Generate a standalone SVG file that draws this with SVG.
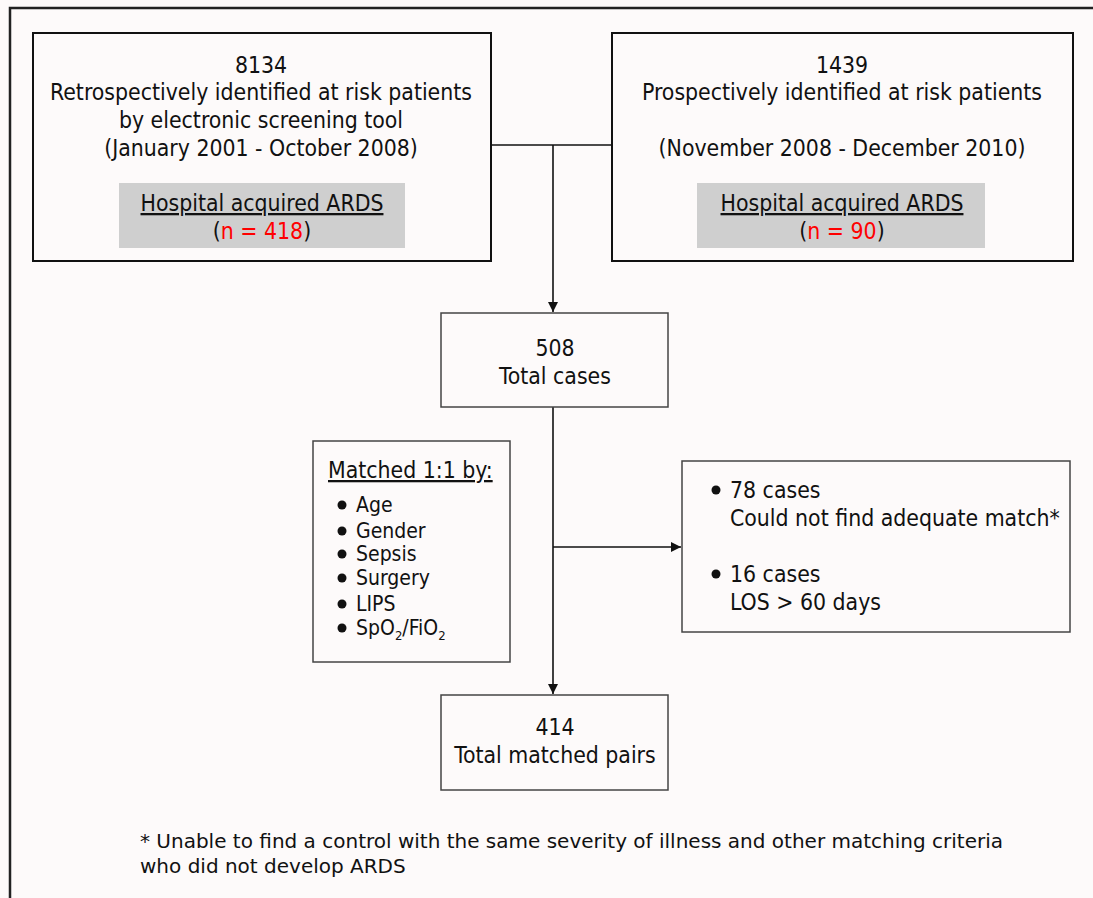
<svg xmlns="http://www.w3.org/2000/svg" width="1093" height="898" viewBox="0 0 1093 898">
<defs>
<marker id="arr" viewBox="0 0 10 10" refX="10" refY="5" markerWidth="10" markerHeight="11" markerUnits="userSpaceOnUse" orient="auto">
<path d="M0,0 L10,5 L0,10 z" fill="#111"/>
</marker>
<style>
text{font-family:"DejaVu Sans Condensed","DejaVu Sans",sans-serif;font-size:22.8px;fill:#111}
.c{text-anchor:middle}
.u{text-decoration:underline}
.red{fill:#ff0000}
.li{font-size:21px}
.fn{font-family:"DejaVu Sans",sans-serif;font-size:20px}
.top{fill:#fdfafa;stroke:#111;stroke-width:2}
.box{fill:#fdfafa;stroke:#444;stroke-width:1.5}
.gray{fill:#cfcfcf;stroke:none}
.ln{fill:none;stroke:#111;stroke-width:1.6}
</style>
</defs>
<rect x="0" y="0" width="1093" height="898" fill="#fdfafa"/>
<rect x="10" y="8" width="1100" height="900" fill="none" stroke="#222" stroke-width="2.5"/>

<g id="connectors">
<path class="ln" d="M491,145 H612"/>
<path class="ln" d="M553,145 V312" marker-end="url(#arr)"/>
<path class="ln" d="M553,407 V694" marker-end="url(#arr)"/>
<path class="ln" d="M553,547 H681" marker-end="url(#arr)"/>
</g>

<g id="retro">
<rect class="top" x="33" y="33" width="458" height="228"/>
<rect class="gray" x="119" y="183" width="286" height="65"/>
<text class="c" x="261" y="73">8134</text>
<text class="c" x="261" y="100">Retrospectively identified at risk patients</text>
<text class="c" x="261" y="128">by electronic screening tool</text>
<text class="c" x="261" y="156">(January 2001 - October 2008)</text>
<text class="c u" x="262" y="211">Hospital acquired ARDS</text>
<text class="c" x="262" y="239">(<tspan class="red">n = 418</tspan>)</text>
</g>

<g id="prosp">
<rect class="top" x="612" y="33" width="461" height="228"/>
<rect class="gray" x="697" y="183" width="288" height="65"/>
<text class="c" x="842" y="73">1439</text>
<text class="c" x="842" y="100">Prospectively identified at risk patients</text>
<text class="c" x="842" y="156">(November 2008 - December 2010)</text>
<text class="c u" x="842" y="211">Hospital acquired ARDS</text>
<text class="c" x="842" y="239">(<tspan class="red">n = 90</tspan>)</text>
</g>

<g id="total">
<rect class="box" x="441" y="313" width="227" height="94"/>
<text class="c" x="555" y="356">508</text>
<text class="c" x="555" y="384">Total cases</text>
</g>

<g id="matched">
<rect class="box" x="313" y="441" width="197" height="221"/>
<text class="u" x="328" y="478">Matched 1:1 by:</text>
<circle cx="342" cy="505" r="4.5" fill="#111"/>
<text class="li" x="356" y="512">Age</text>
<circle cx="342" cy="531" r="4.5" fill="#111"/>
<text class="li" x="356" y="538">Gender</text>
<circle cx="342" cy="554" r="4.5" fill="#111"/>
<text class="li" x="356" y="561">Sepsis</text>
<circle cx="342" cy="578" r="4.5" fill="#111"/>
<text class="li" x="356" y="585">Surgery</text>
<circle cx="342" cy="604" r="4.5" fill="#111"/>
<text class="li" x="356" y="611">LIPS</text>
<circle cx="342" cy="628" r="4.5" fill="#111"/>
<text class="li" x="356" y="635">SpO<tspan font-size="13" dy="5">2</tspan><tspan dy="-5">/FiO</tspan><tspan font-size="13" dy="5">2</tspan></text>
</g>

<g id="excluded">
<rect class="box" x="682" y="461" width="388" height="171"/>
<circle cx="716" cy="490" r="4.5" fill="#111"/>
<text x="730" y="498">78 cases</text>
<text x="730" y="526">Could not find adequate match*</text>
<circle cx="716" cy="574" r="4.5" fill="#111"/>
<text x="730" y="582">16 cases</text>
<text x="730" y="610">LOS &gt; 60 days</text>
</g>

<g id="pairs">
<rect class="box" x="441" y="695" width="227" height="95"/>
<text class="c" x="555" y="735">414</text>
<text class="c" x="555" y="763">Total matched pairs</text>
</g>

<g id="footnote">
<text class="fn" x="140" y="848">* Unable to find a control with the same severity of illness and other matching criteria</text>
<text class="fn" x="140" y="873">who did not develop ARDS</text>
</g>
</svg>
